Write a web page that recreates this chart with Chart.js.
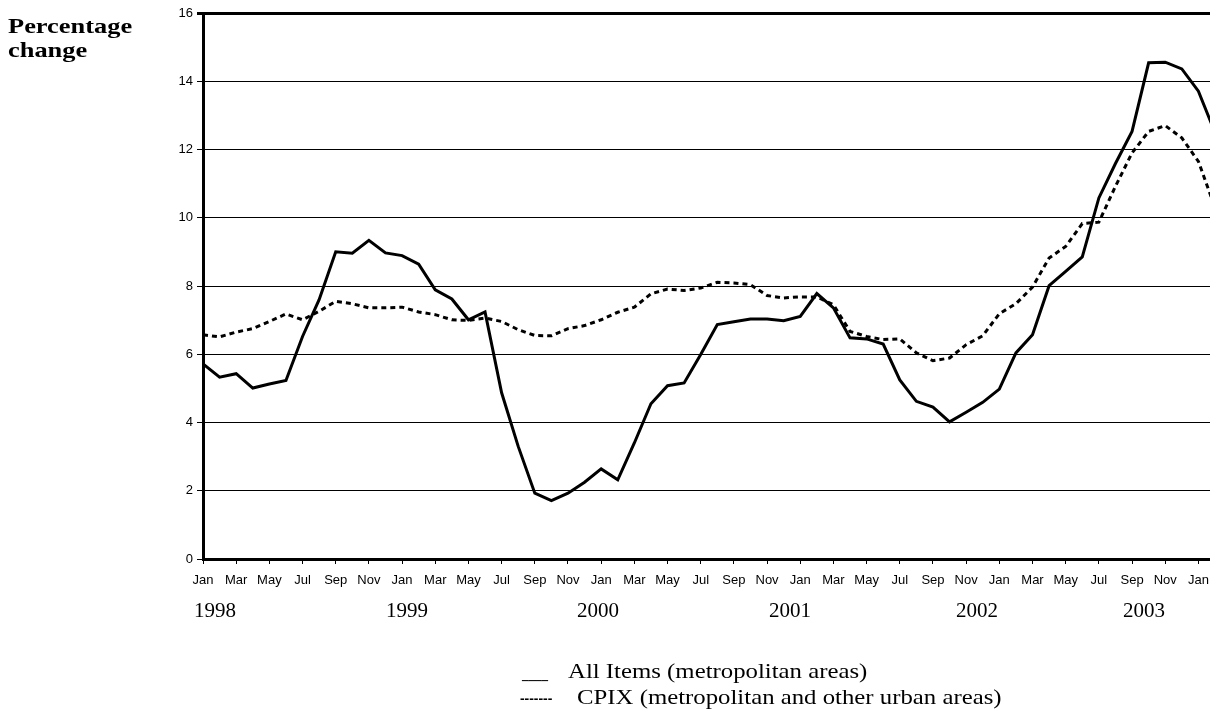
<!DOCTYPE html>
<html>
<head>
<meta charset="utf-8">
<script src="https://cdn.jsdelivr.net/npm/chart.js@4.4.1/dist/chart.umd.min.js"></script>
<style>
  html, body { margin:0; padding:0; background:#fff; width:1210px; height:715px; overflow:hidden; }
  #wrap { position:relative; width:1210px; height:715px; overflow:hidden; }
  canvas { position:absolute; left:0; top:0; }
  .serif { font-family:"Times New Roman","Liberation Serif",serif; color:#000; position:absolute; white-space:pre; }
  .title { font-weight:bold; font-size:22px; line-height:24px; left:8px; top:14px; transform:scaleX(1.2); transform-origin:left top; }
  .year { font-size:21px; top:598px; transform:translateX(-50%); }
  .leg { font-size:21px; transform:scaleX(1.18); transform-origin:left top; }
  .mk1 { font-size:21px; transform:scaleX(0.62); transform-origin:left top; }
  .mk2 { font-size:21px; transform:scaleX(0.66); transform-origin:left top; }
</style>
</head>
<body>
<div id="wrap">
  <canvas id="c" width="1240" height="715"></canvas>
  <div class="serif title">Percentage
change</div>
  <div id="years"></div>
  <div class="serif mk1" style="left:522px; top:659px;">____</div>
  <div class="serif leg" style="left:568px; top:659px;">All Items (metropolitan areas)</div>
  <div class="serif mk2" style="left:520px; top:685px;">-------</div>
  <div class="serif leg" style="left:577px; top:685px;">CPIX (metropolitan and other urban areas)</div>
</div>
<script>
// Month tick labels, Jan 1998 .. Feb 2003
const monthNames = ['Jan','Feb','Mar','Apr','May','Jun','Jul','Aug','Sep','Oct','Nov','Dec'];
const monthLabels = [];
for (let y = 0; y < 5; y++) monthLabels.push(...monthNames);
monthLabels.push('Jan','Feb');

// Year labels and their approximate centre positions (px)
const yearLabels = ['1998','1999','2000','2001','2002','2003'];
const yearCentres = [215, 407, 598, 790, 977, 1144];

// All Items (metropolitan areas), % change
const allItems = [5.72,5.33,5.43,5.01,5.13,5.23,6.52,7.60,9.00,8.96,9.34,8.97,
                  8.89,8.64,7.89,7.62,7.01,7.24,4.87,3.30,1.93,1.71,1.93,2.25,
                  2.64,2.32,3.40,4.55,5.08,5.16,5.99,6.87,6.95,7.03,7.03,6.98,
                  7.11,7.78,7.36,6.48,6.45,6.30,5.25,4.62,4.45,4.02,4.30,4.59,
                  4.98,6.04,6.57,8.01,8.43,8.85,10.58,11.59,12.53,14.54,14.56,14.36,
                  13.71,12.50];

// CPIX (metropolitan and other urban areas), % change
const cpix = [6.57,6.51,6.65,6.75,6.96,7.18,7.01,7.26,7.55,7.48,7.36,7.36,
              7.38,7.24,7.16,7.01,6.99,7.06,6.96,6.72,6.55,6.54,6.75,6.84,
              7.01,7.23,7.38,7.77,7.91,7.87,7.94,8.11,8.09,8.04,7.72,7.65,
              7.68,7.68,7.45,6.67,6.52,6.43,6.45,6.04,5.81,5.89,6.28,6.54,
              7.19,7.48,7.97,8.82,9.16,9.83,9.87,10.92,11.90,12.53,12.70,12.34,
              11.65,10.30];

const yTicks = [0,2,4,6,8,10,12,14,16];

const yc = document.getElementById('years');
yearLabels.forEach((t, i) => {
  const d = document.createElement('div');
  d.className = 'serif year';
  d.style.left = yearCentres[i] + 'px';
  d.textContent = t;
  yc.appendChild(d);
});

const sans = "'Liberation Sans', Arial, sans-serif";

new Chart(document.getElementById('c'), {
  type: 'line',
  data: {
    labels: monthLabels,
    datasets: [
      { label: 'All Items (metropolitan areas)', data: allItems, borderColor: '#000', borderWidth: 3,
        pointRadius: 0, tension: 0, fill: false, borderJoinStyle: 'miter' },
      { label: 'CPIX (metropolitan and other urban areas)', data: cpix, borderColor: '#000', borderWidth: 3,
        borderDash: [5, 4], pointRadius: 0, tension: 0, fill: false }
    ]
  },
  options: {
    responsive: false,
    animation: false,
    devicePixelRatio: 1,
    layout: { padding: { top: 13, right: 25, left: 0, bottom: 0 } },
    plugins: { legend: { display: false }, tooltip: { enabled: false } },
    scales: {
      x: {
        type: 'category',
        offset: false,
        afterFit: s => { s.height = 156; },
        border: { display: true, color: '#000', width: 3 },
        grid: {
          drawOnChartArea: false, drawTicks: true, tickLength: 5, lineWidth: 1,
          tickColor: ctx => (ctx.index % 2 === 0 ? '#000' : 'rgba(0,0,0,0)')
        },
        ticks: {
          autoSkip: false, maxRotation: 0, minRotation: 0, padding: 9,
          color: '#000', font: { family: sans, size: 13 },
          callback: function (v, i) { return i % 2 === 0 ? this.getLabelForValue(v) : ''; }
        }
      },
      y: {
        min: 0, max: 16,
        afterFit: s => { s.width = 203; },
        afterBuildTicks: s => { s.ticks = yTicks.map(v => ({ value: v })); },
        border: { display: true, color: '#000', width: 3 },
        grid: {
          color: '#000', tickColor: '#000', tickLength: 6,
          lineWidth: ctx => (ctx.tick && ctx.tick.value === 16 ? 3 : 1)
        },
        ticks: { color: '#000', padding: 4, font: { family: sans, size: 13 } }
      }
    }
  }
});
</script>
</body>
</html>
